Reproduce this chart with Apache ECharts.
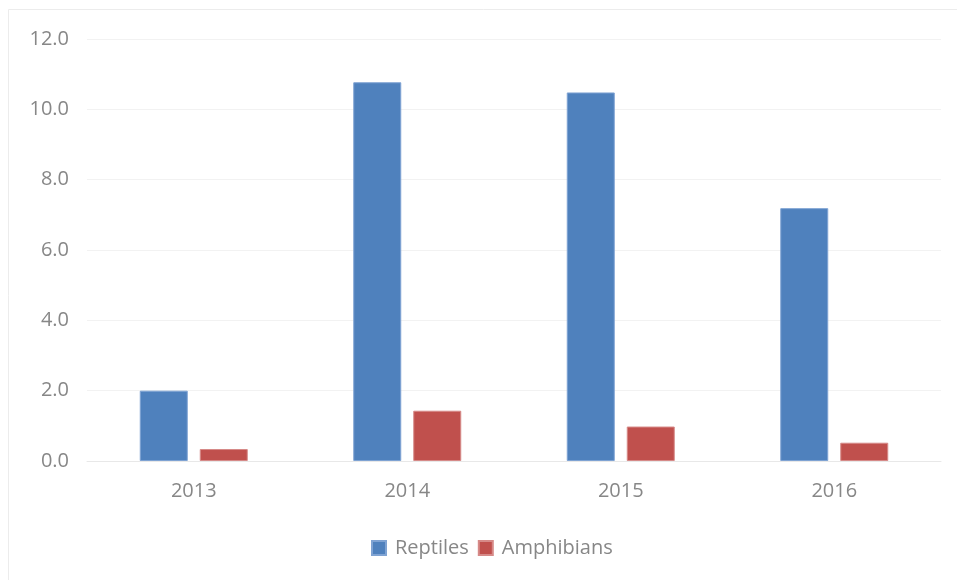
<!DOCTYPE html>
<html>
<head>
<meta charset="utf-8">
<script src="https://cdn.jsdelivr.net/npm/echarts@6/dist/echarts.min.js"></script>
<style>
  html, body { margin: 0; padding: 0; background: #ffffff; }
  #chart { width: 957px; height: 580px; }
</style>
</head>
<body>
<div id="chart"></div>
<script>
// Annual counts by group
const years = ['2013', '2014', '2015', '2016'];
const reptiles = [2.0, 10.77, 10.48, 7.19];
const amphibians = [0.34, 1.43, 0.98, 0.52];
const yTicks = { min: 0, max: 12, interval: 2 };

const FONT = '"Open Sans", "Liberation Sans", sans-serif';
const LABEL_COLOR = '#878787';

const chart = echarts.init(document.getElementById('chart'), null, { renderer: 'canvas' });

chart.setOption({
  animation: false,
  backgroundColor: '#ffffff',
  graphic: [{
    type: 'rect',
    shape: { x: 8.5, y: 9.5, width: 960, height: 600 },
    style: { fill: 'none', stroke: '#ececec', lineWidth: 1 },
    silent: true
  }],
  grid: { left: 87, right: 16, top: 39, bottom: 119, containLabel: false },
  legend: {
    left: 366,
    top: 533,
    itemWidth: 14,
    itemHeight: 14,
    itemGap: 9,
    icon: 'rect',
    textStyle: { fontFamily: FONT, fontSize: 20, color: LABEL_COLOR, padding: [0, 0, 0, 4] },
    data: ['Reptiles', 'Amphibians']
  },
  xAxis: {
    type: 'category',
    data: years,
    axisTick: { show: false },
    axisLine: { show: true, lineStyle: { color: '#e8e8e8', width: 1 } },
    axisLabel: { fontFamily: FONT, fontSize: 20, color: LABEL_COLOR, margin: 20 }
  },
  yAxis: {
    type: 'value',
    min: yTicks.min,
    max: yTicks.max,
    interval: yTicks.interval,
    axisLine: { show: false },
    axisTick: { show: false },
    splitLine: { lineStyle: { color: '#f2f2f2', width: 1 } },
    axisLabel: {
      fontFamily: FONT, fontSize: 20, color: LABEL_COLOR, margin: 18,
      formatter: v => v.toFixed(1)
    }
  },
  series: [
    {
      name: 'Reptiles',
      type: 'bar',
      data: reptiles,
      barWidth: 48,
      barGap: '25%',
      itemStyle: { color: '#4f81bd', borderColor: '#7fa3d3', borderWidth: 1 }
    },
    {
      name: 'Amphibians',
      type: 'bar',
      data: amphibians,
      barWidth: 48,
      itemStyle: { color: '#c0504d', borderColor: '#d68a88', borderWidth: 1 }
    }
  ]
});
</script>
</body>
</html>
